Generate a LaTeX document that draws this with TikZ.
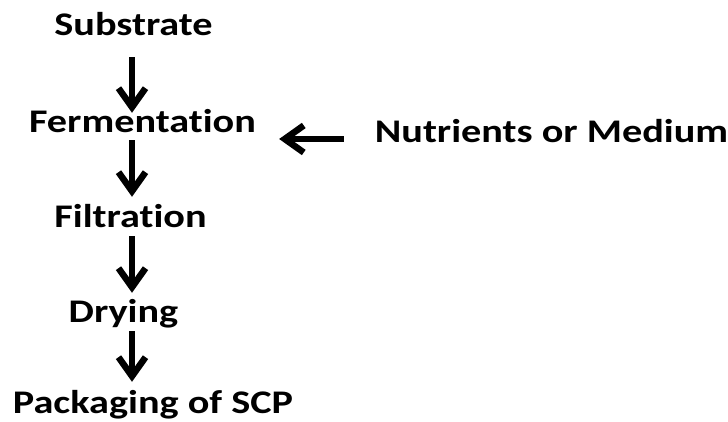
\documentclass[tikz,border=0pt]{standalone}
\usepackage{fontspec}
\setmainfont{Carlito}[FakeStretch=1.22, Ligatures=NoCommon]
\usepackage{tikz}
\usetikzlibrary{arrows.meta, calc, positioning}
\tikzstyle{stage} = [inner sep=0pt, anchor=base, font=\fontsize{33}{36}\selectfont\bfseries, text height=22pt, text depth=7pt]
\tikzstyle{line} = [draw, line width=6.5pt, -{Straight Barb[length=19pt, width=27pt]}]

\begin{document}
\begin{tikzpicture}[x=1pt, y=1pt]
        \useasboundingbox (0,0) rectangle (728,422);
        \coordinate (axis) at (132,0);

        \node[stage] (sub) at (133.5,386) {Substrate};

        \node[stage] (fer) at (142.5,289) {Fermentation};
        \path[line, shorten <=14pt, shorten >=-2pt] (sub.south -| axis) -- (fer.north -| axis);

        \node[stage] (nut) at (551.5,279) {Nutrients or Medium};
        \path[line, shorten <=31pt, shorten >=23pt] (nut.west |- 0,283) -- (fer.east |- 0,283);

        \node[stage] (fil) at (130.5,194) {Filtration};
        \path[line, shorten >=9pt] (fer.south -| axis) -- (fil.north -| axis);

        \node[stage] (dry) at (123.5,99) {Drying};
        \path[line, shorten <=1pt, shorten >=8pt] (fil.south -| axis) -- (dry.north -| axis);

        \node[stage] (pck) at (153,8) {Packaging of SCP};
        \path[line, shorten <=1pt, shorten >=10pt] (dry.south -| axis) -- (pck.north -| axis);
    \end{tikzpicture}
\end{document}
